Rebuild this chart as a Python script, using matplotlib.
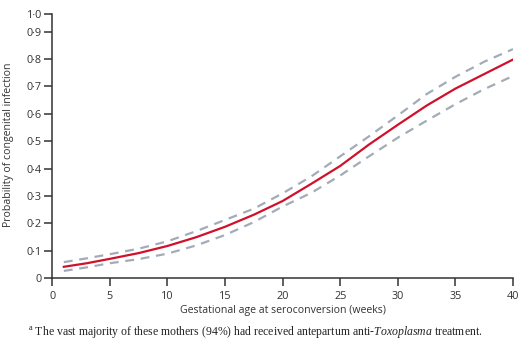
import matplotlib
matplotlib.use("Agg")
import matplotlib.pyplot as plt

# Data
weeks = [1, 3, 5, 7.5, 10, 12.5, 15, 17.5, 20, 22.5, 25, 27.5, 30, 32.5, 35, 37.5, 40]
prob = [0.042, 0.055, 0.071, 0.092, 0.118, 0.150, 0.188, 0.232, 0.282, 0.345, 0.410, 0.488, 0.560, 0.630, 0.692, 0.745, 0.798]
upper = [0.059, 0.073, 0.088, 0.108, 0.135, 0.172, 0.213, 0.254, 0.310, 0.372, 0.445, 0.518, 0.594, 0.672, 0.735, 0.790, 0.836]
lower = [0.027, 0.040, 0.055, 0.070, 0.090, 0.120, 0.158, 0.205, 0.262, 0.312, 0.375, 0.445, 0.513, 0.575, 0.635, 0.690, 0.738]

xticks = [0, 5, 10, 15, 20, 25, 30, 35, 40]
yticks = [0, 0.1, 0.2, 0.3, 0.4, 0.5, 0.6, 0.7, 0.8, 0.9, 0.964]
yticklabels = ["0", "0·1", "0·2", "0·3", "0·4", "0·5", "0·6", "0·7", "0·8", "0·9", "1·0"]

plt.rcParams['font.family'] = ['Open Sans', 'DejaVu Sans']
plt.rcParams['mathtext.fontset'] = 'custom'
plt.rcParams['mathtext.rm'] = 'Liberation Serif'
plt.rcParams['mathtext.it'] = 'Liberation Serif:italic'

fig = plt.figure(figsize=(5.2, 3.51), dpi=100)
ax = fig.add_axes([0.1006, 0.2071, 0.8859, 0.7529])

red = '#d0112b'
grey = '#a3acb6'
ax.plot(weeks, upper, color=grey, lw=1.6, dashes=(4, 3))
ax.plot(weeks, lower, color=grey, lw=1.6, dashes=(4, 3))
ax.plot(weeks, prob, color=red, lw=1.6)

ax.set_xlim(0, 40)
ax.set_ylim(0, 0.964)
ax.set_xticks(xticks)
ax.set_xticklabels([str(t) for t in xticks])
ax.set_yticks(yticks)
ax.set_yticklabels(yticklabels)

for s in ['top', 'right']:
    ax.spines[s].set_visible(False)
for s in ['left', 'bottom']:
    ax.spines[s].set_linewidth(1.1)
    ax.spines[s].set_color('#333333')
ax.tick_params(axis='both', direction='out', length=5.5, width=1.1, color='#333333',
               labelsize=7.8, labelcolor='#333333')
ax.tick_params(axis='y', pad=2)
ax.tick_params(axis='x', pad=3.5)

ax.set_xlabel("Gestational age at seroconversion (weeks)", fontsize=7.6, color='#333333', labelpad=2)
fig.text(0.016, 0.588, "Probability of congenital infection", rotation=90, fontsize=7.6,
         color='#333333', ha='center', va='center')

fig.text(0.054, 0.054,
         r"${}^{\mathrm{a}}$ The vast majority of these mothers (94%) had received antepartum anti-$\mathit{Toxoplasma}$ treatment.",
         family='Liberation Serif', fontsize=8.5, color='#222222', ha='left', va='center')

fig.savefig("out.png", dpi=100)
